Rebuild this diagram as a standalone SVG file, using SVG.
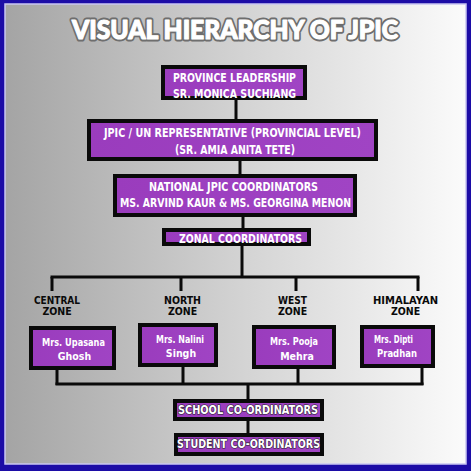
<svg xmlns="http://www.w3.org/2000/svg" width="471" height="471" viewBox="0 0 471 471">
<defs>
<linearGradient id="bg" x1="0" y1="0" x2="1" y2="0">
<stop offset="0" stop-color="#a4a4a4"/>
<stop offset="0.5" stop-color="#d2d2d2"/>
<stop offset="1" stop-color="#fbfbfb"/>
</linearGradient>
<linearGradient id="pur" x1="0" y1="0" x2="1" y2="0">
<stop offset="0" stop-color="#9a3cbd"/>
<stop offset="1" stop-color="#a044c4"/>
</linearGradient>
</defs>
<style>
.box{fill:url(#pur);stroke:#0a0a0a;stroke-width:4}
.bt{fill:#ffffff;font-family:"DejaVu Sans Condensed","DejaVu Sans",sans-serif;font-weight:bold;font-size:12px;text-anchor:middle}
.nm{fill:#ffffff;font-family:"DejaVu Sans Condensed","DejaVu Sans",sans-serif;font-weight:bold;font-size:10.5px;text-anchor:middle}
.zl{fill:#0a0a0a;font-family:"DejaVu Sans Condensed","DejaVu Sans",sans-serif;font-weight:bold;font-size:10.5px;text-anchor:middle}
.ln{stroke:#0a0a0a;stroke-width:3;fill:none}
.sh{stroke:#222;stroke-width:1.2;paint-order:stroke}
.tt{font-family:Lato,"Liberation Sans",sans-serif;font-weight:900;font-size:27px;stroke-linejoin:round}
</style>
<rect x="0" y="0" width="471" height="471" fill="#1c0ca6"/>
<rect x="5" y="4" width="461" height="460" fill="url(#bg)" stroke="#c9c6f2" stroke-width="1.5"/>
<text class="tt" x="72" y="39" textLength="326" lengthAdjust="spacingAndGlyphs" fill="#6e6e6e" stroke="#6e6e6e" stroke-width="5">VISUAL HIERARCHY OF JPIC</text>
<text class="tt" x="72" y="39" textLength="326" lengthAdjust="spacingAndGlyphs" fill="#ffffff" stroke="#ffffff" stroke-width="1.2">VISUAL HIERARCHY OF JPIC</text>

<g id="connectors">
<path class="ln" d="M236 99V119"/>
<path class="ln" d="M240 161V174"/>
<path class="ln" d="M243 217V228"/>
<path class="ln" d="M242 246V277"/>
<path class="ln" d="M50.5 277H419.5"/>
<path class="ln" d="M52 277V291M181 277V291M296 277V291M418 277V291"/>
<path class="ln" d="M57 370V385M183 367V385M298 369V385M422 368V385"/>
<path class="ln" d="M55.5 384H423.5"/>
<path class="ln" d="M248 384V399"/>
<path class="ln" d="M248 421V433"/>
</g>

<g id="province">
<rect class="box" x="163" y="67" width="142" height="31"/>
<text class="bt" x="234.5" y="82" textLength="123" lengthAdjust="spacingAndGlyphs">PROVINCE LEADERSHIP</text>
<text class="bt" x="234.5" y="98" textLength="123" lengthAdjust="spacingAndGlyphs">SR. MONICA SUCHIANG</text>
</g>
<g id="jpic-un">
<rect class="box" x="89" y="121" width="287" height="38"/>
<text class="bt" x="232.5" y="137" textLength="257" lengthAdjust="spacingAndGlyphs">JPIC / UN REPRESENTATIVE (PROVINCIAL LEVEL)</text>
<text class="bt" x="235" y="154" textLength="120" lengthAdjust="spacingAndGlyphs">(SR. AMIA ANITA TETE)</text>
</g>
<g id="national">
<rect class="box" x="115" y="176" width="240" height="39"/>
<text class="bt" x="233.5" y="191" textLength="169" lengthAdjust="spacingAndGlyphs">NATIONAL JPIC COORDINATORS</text>
<text class="bt" x="235.5" y="207" textLength="231" lengthAdjust="spacingAndGlyphs">MS. ARVIND KAUR &amp; MS. GEORGINA MENON</text>
</g>
<g id="zonal">
<rect class="box" x="164" y="230" width="145" height="14"/>
<text class="bt" x="240.5" y="243" textLength="123" lengthAdjust="spacingAndGlyphs">ZONAL COORDINATORS</text>
</g>

<g id="central">
<text class="zl" x="57" y="303.5" textLength="46" lengthAdjust="spacingAndGlyphs">CENTRAL</text>
<text class="zl" x="57" y="314.5">ZONE</text>
<rect class="box" x="31" y="328" width="83" height="40"/>
<text class="nm" x="73.5" y="346" textLength="63" lengthAdjust="spacingAndGlyphs">Mrs. Upasana</text>
<text class="nm" x="74.5" y="359.5">Ghosh</text>
</g>
<g id="north">
<text class="zl" x="182.5" y="303.5" textLength="37" lengthAdjust="spacingAndGlyphs">NORTH</text>
<text class="zl" x="182.5" y="314.5">ZONE</text>
<rect class="box" x="140" y="325" width="76" height="40"/>
<text class="nm" x="180" y="343" textLength="48" lengthAdjust="spacingAndGlyphs">Mrs. Nalini</text>
<text class="nm" x="181" y="357">Singh</text>
</g>
<g id="west">
<text class="zl" x="292.5" y="303.5" textLength="29" lengthAdjust="spacingAndGlyphs">WEST</text>
<text class="zl" x="292.5" y="314.5">ZONE</text>
<rect class="box" x="254" y="327" width="80" height="40"/>
<text class="nm" x="294" y="345" textLength="48" lengthAdjust="spacingAndGlyphs">Mrs. Pooja</text>
<text class="nm" x="297" y="359.5">Mehra</text>
</g>
<g id="himalayan">
<text class="zl" x="405.5" y="303.5" textLength="65" lengthAdjust="spacingAndGlyphs">HIMALAYAN</text>
<text class="zl" x="405.5" y="314.5">ZONE</text>
<rect class="box" x="362" y="327" width="71" height="39"/>
<text class="nm" x="393.5" y="343" textLength="39" lengthAdjust="spacingAndGlyphs">Mrs. Dipti</text>
<text class="nm" x="397" y="357" textLength="40" lengthAdjust="spacingAndGlyphs">Pradhan</text>
</g>

<g id="school">
<rect class="box" x="175" y="401" width="147" height="18"/>
<text class="bt sh" x="248" y="414" textLength="140" lengthAdjust="spacingAndGlyphs">SCHOOL CO-ORDINATORS</text>
</g>
<g id="student">
<rect class="box" x="176" y="435" width="146" height="19"/>
<text class="bt sh" x="248.5" y="448" textLength="143" lengthAdjust="spacingAndGlyphs">STUDENT CO-ORDINATORS</text>
</g>
</svg>
